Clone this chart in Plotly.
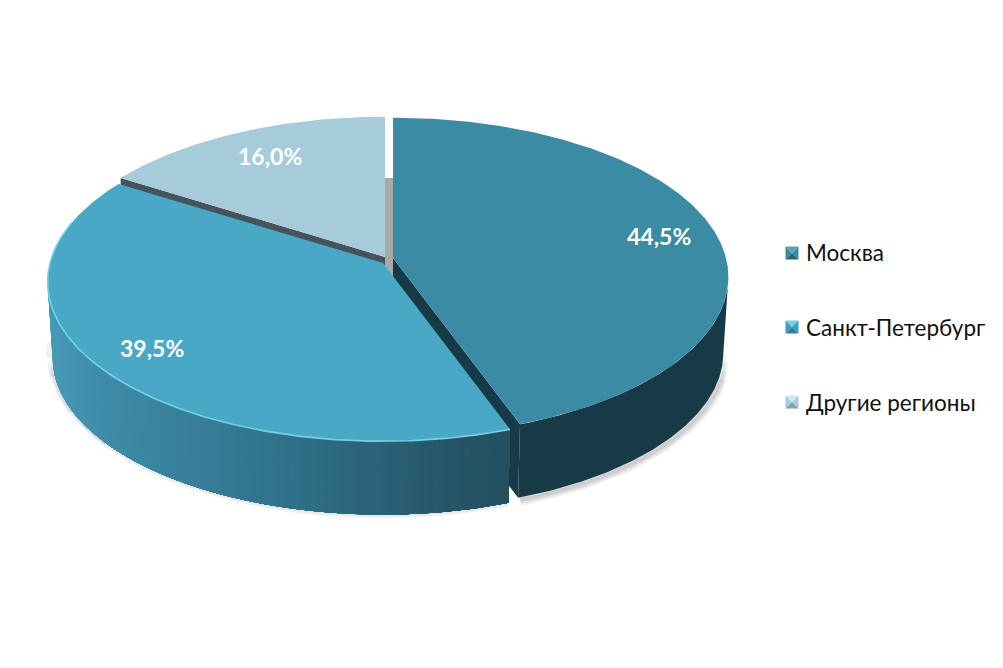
import numpy as np
import plotly.graph_objects as go

categories = ["Москва", "Санкт-Петербург", "Другие регионы"]
shares = [44.5, 39.5, 16.0]
top_colors = ["#3c8ba4", "#49a8c5", "#a6cbdb"]
swatch_colors = [("#5ba0b5", "#3a8aa2", "#2a6273"),
                 ("#6fd2e8", "#3aa0bd", "#2f7f98"),
                 ("#d0e6ef", "#a8cbd9", "#7fa3b3")]
apexes = [(393, 258), (383, 263), (385, 257)]

W, H = 1003, 668
RX, RY, K, DEPTH, SHRINK = 333, 157, 0.119, 76, 0.985

total = sum(shares)
edges = np.cumsum([0] + shares) / total * 2 * np.pi


def rim(t, apex, bottom=False):
    u, v = np.sin(t), np.cos(t)
    d = 1 - K * v
    s = SHRINK if bottom else 1.0
    return apex[0] + s * RX * u / d, apex[1] + s * RY * v / d + (DEPTH if bottom else 0)


def angles(a, b):
    return np.linspace(a, b, max(3, int(abs(b - a) * 90)))


def vis(t):
    """Map clockwise-from-top angle to the parameter used by rim (v positive = near)."""
    return np.pi - t


fig = go.Figure()


def poly(x, y, fill, line=None, width=0):
    fig.add_trace(go.Scatter(
        x=list(x), y=list(y), mode="lines", fill="toself", fillcolor=fill,
        line=dict(color=line or fill, width=width), hoverinfo="skip", showlegend=False))


def stroke(x, y, color, width):
    fig.add_trace(go.Scatter(x=list(x), y=list(y), mode="lines", line=dict(color=color, width=width),
                             hoverinfo="skip", showlegend=False))


def hex2rgb(h):
    return np.array([int(h[i:i + 2], 16) for i in (1, 3, 5)], float)


# Silhouette angles: where each slice's rim reaches its outermost x
sample = vis(np.linspace(edges[0], edges[1], 720))
t_right = sample[np.argmax(rim(sample, apexes[0])[0])]
sample = vis(np.linspace(edges[1], edges[2], 720))
t_left = sample[np.argmin(rim(sample, apexes[1])[0])]

# ---- soft shadow outside the side walls; narrower passes run further so the ends fade out
for i, w in enumerate([12, 9, 6, 3]):
    tm = np.linspace(t_right - 0.05 * (3 - i), vis(edges[1]), 120)
    x, y = rim(tm, apexes[0], True)
    stroke(x + 2, y + 2, "rgba(0,0,0,0.05)", w)
    tp = vis(angles(edges[1] + 1.9 - 0.22 * i, edges[2] - 0.68 - 0.03 * i))
    x, y = rim(tp, apexes[1], True)
    stroke(x - 1, y + 1, "rgba(0,0,0,0.06)", w)
    tp = vis(angles(edges[1], edges[1] + 1.3 + 0.12 * i))
    x, y = rim(tp, apexes[1], True)
    stroke(x, y + 1, "rgba(0,0,0,0.025)", w * 0.6)

# ---- "other regions" slice
ax, ay = apexes[2]
cx, cy = rim(vis(edges[2]), apexes[2])
poly([ax, cx, cx, ax], [ay, cy, cy + DEPTH, ay + DEPTH], "#47535c")
poly([ax, ax + 8, ax + 8, ax], [ay - 79, ay - 79, ay + 40, ay + 40], "#a9a9a9")
t = vis(angles(edges[2], edges[3]))
x, y = rim(t, apexes[2])
poly(np.r_[ax, x], np.r_[ay, y], top_colors[2])

# ---- Moscow walls
t = np.linspace(t_right, vis(edges[1]), 120)
xt, yt = rim(t, apexes[0])
xb, yb = rim(t, apexes[0], True)
poly(np.r_[xt, xb[::-1]], np.r_[yt, yb[::-1]], "#163a46")
ax, ay = apexes[0]
cx, cy = rim(vis(edges[1]), apexes[0])
bx, by = rim(vis(edges[1]), apexes[0], True)
poly([ax, cx, bx, ax], [ay, cy, by, ay + DEPTH], "#163a46")

# ---- St Petersburg wall: horizontal gradient, painted as overlapping layers so no seams appear
stops_x = [45, 100, 300, 450, 510]
stops_c = [hex2rgb(c) for c in ("#4a9dba", "#3f8dab", "#2f7086", "#27566a", "#24505e")]
t_end = vis(edges[1])
ts = np.linspace(t_left, t_end, 130)
for t0 in ts[:-1]:
    tt = np.linspace(t0, t_end, 60)
    xt, yt = rim(tt, apexes[1])
    xb, yb = rim(tt, apexes[1], True)
    mx = (xt[0] + xb[0]) / 2 + 3
    rgb = [np.interp(mx, stops_x, [c[i] for c in stops_c]) for i in range(3)]
    poly(np.r_[xt, xb[::-1]], np.r_[yt, yb[::-1]], "rgb(%d,%d,%d)" % tuple(rgb))

# ---- St Petersburg top
t = vis(angles(edges[1], edges[2]))
x, y = rim(t, apexes[1])
poly(np.r_[apexes[1][0], x], np.r_[apexes[1][1], y], top_colors[1])
t = vis(angles(edges[1], edges[2] - 0.3))
x, y = rim(t, apexes[1])
stroke(x, y, "#72d2e9", 1.6)

# ---- Moscow top
t = vis(angles(edges[0], edges[1]))
x, y = rim(t, apexes[0])
poly(np.r_[apexes[0][0], x], np.r_[apexes[0][1], y], top_colors[0])

# ---- legend: bevelled swatches and labels
leg_x, leg_y, half = 792, [253, 327, 402], 6.5
for name, yc, (c_top, c_side, c_bot) in zip(categories, leg_y, swatch_colors):
    poly([leg_x - half, leg_x + half, leg_x], [yc - half, yc - half, yc], c_top)
    poly([leg_x - half, leg_x, leg_x - half], [yc - half, yc, yc + half], c_side)
    poly([leg_x + half, leg_x, leg_x + half], [yc - half, yc, yc + half], c_side)
    poly([leg_x - half, leg_x + half, leg_x], [yc + half, yc + half, yc], c_bot)

annotations = []
for name, yc in zip(categories, leg_y):
    annotations.append(dict(x=804 / W, y=1 - yc / H, xref="paper", yref="paper", text=name, showarrow=False,
                            xanchor="left", yanchor="middle",
                            font=dict(family="Lato, Noto Sans", size=22.5, color="#111111")))

label_pos = [(659, 236), (152, 348), (270, 156)]
for v, (lx, ly) in zip(shares, label_pos):
    annotations.append(dict(x=lx / W, y=1 - ly / H, xref="paper", yref="paper",
                            text="<b>%s%%</b>" % f"{v:.1f}".replace(".", ","), showarrow=False,
                            xanchor="center", yanchor="middle",
                            font=dict(family="Lato, Open Sans", size=23, color="white")))

fig.update_layout(
    width=W, height=H, margin=dict(l=0, r=0, t=0, b=0),
    paper_bgcolor="white", plot_bgcolor="white", showlegend=False, annotations=annotations,
    xaxis=dict(range=[0, W], visible=False, fixedrange=True),
    yaxis=dict(range=[H, 0], visible=False, fixedrange=True),
)
fig.write_html("out.html", config=dict(displayModeBar=False),
               post_script="document.body.style.margin='0';document.body.style.overflow='hidden';")
